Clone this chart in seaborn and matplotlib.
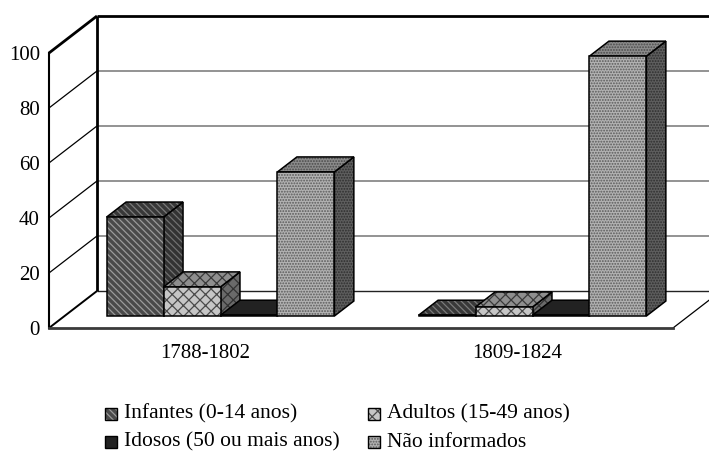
"""3D-style grouped bar chart of age groups by period (Excel look)."""

import matplotlib
matplotlib.use("Agg")
import matplotlib.pyplot as plt
import pandas as pd
import seaborn as sns
from matplotlib import transforms
from matplotlib.patches import Polygon, Rectangle

# Data
periods = ["1788-1802", "1809-1824"]
groups = [
    "Infantes (0-14 anos)",
    "Adultos (15-49 anos)",
    "Idosos (50 ou mais anos)",
    "Não informados",
]
infantes = [36.0, 0.3]
adultos = [10.6, 3.3]
idosos = [0.3, 0.3]
nao_informados = [52.4, 94.5]
y_ticks = [0, 20, 40, 60, 80, 100]

# Face styles: front / top / side fill, hatch colour per face, hatch pattern
styles = {
    groups[0]: dict(front="#4a4a4a", top="#383838", side="#333333",
                    hc=("#9a9a9a", "#7a7a7a", "#707070"), hatch="\\\\\\\\\\"),
    groups[1]: dict(front="#c6c6c6", top="#8e8e8e", side="#6a6a6a",
                    hc=("#4a4a4a", "#3a3a3a", "#333333"), hatch="xxx"),
    groups[2]: dict(front="#222222", top="#222222", side="#222222",
                    hc=("#222222", "#222222", "#222222"), hatch=None),
    groups[3]: dict(front="#b2b2b2", top="#8c8c8c", side="#5e5e5e",
                    hc=("#5a5a5a", "#4a4a4a", "#2e2e2e"), hatch="......"),
}

# Projection: depth offset of the floor, bar placement in depth
DX, DY = 0.1538, 13.45
F0, DEPTH = 0.324, 0.405

W, H = 709, 461

sns.set_style("white")
plt.rcParams["font.family"] = ["Liberation Serif", "DejaVu Serif"]
plt.rcParams["hatch.linewidth"] = 0.9

df = pd.DataFrame({
    "period": periods * 4,
    "group": [g for g in groups for _ in periods],
    "value": infantes + adultos + idosos + nao_informados,
})

fig = plt.figure(figsize=(W / 100, H / 100), dpi=100)
ax = fig.add_axes([0, 0, 1, 1])

sns.barplot(
    data=df, x="period", y="value", hue="group",
    order=periods, hue_order=groups,
    palette=[styles[g]["front"] for g in groups],
    width=0.73, saturation=1, errorbar=None, legend=False, ax=ax,
)

ax.set_xlim(-0.657, 1.6154)
ax.set_ylim(-48.36, 119.27)
ax.set_xlabel("")
ax.set_ylabel("")
ax.set_facecolor("white")


def line(xs, ys, **kw):
    ax.plot(xs, ys, solid_capstyle="butt", clip_on=False, **kw)


# Walls and floor
x_left, x_right = -0.5, len(periods) - 0.5
for v in y_ticks:
    if v == 100:
        line([x_left + DX, x_right + DX], [v + DY] * 2, color="black", lw=2, zorder=2)
    elif v == 0:
        line([x_left + DX, x_right + DX], [v + DY] * 2, color="#222222", lw=1, zorder=2)
    else:
        line([x_left + DX, x_right + DX], [v + DY] * 2, color="#808080", lw=1.2, zorder=1)
    lw = 2 if v == 100 else (1.4 if v == 0 else 0.9)
    line([x_left, x_left + DX], [v, v + DY], color="black", lw=lw, zorder=2)
line([x_left + DX] * 2, [DY, 100 + DY], color="black", lw=2, zorder=2)
line([x_right, x_right + DX], [0, DY], color="black", lw=0.9, zorder=2)


def face(points, fill, hc, hatch, z):
    ax.add_patch(Polygon(points, closed=True, facecolor=fill, edgecolor=hc,
                         hatch=hatch, lw=0, zorder=z))
    ax.add_patch(Polygon(points, closed=True, fill=False, edgecolor="black",
                         lw=1.1, joinstyle="miter", zorder=z + 0.001))


shift = transforms.Affine2D().translate(F0 * DX, F0 * DY) + ax.transData
bx, by = DEPTH * DX, DEPTH * DY

for i, g in enumerate(groups):
    st = styles[g]
    z = 5 + i
    for rect in ax.containers[i]:
        x, w, h = rect.get_x(), rect.get_width(), rect.get_height()
        xf, yf = x + F0 * DX, F0 * DY
        side = [(xf + w, yf), (xf + w + bx, yf + by),
                (xf + w + bx, yf + h + by), (xf + w, yf + h)]
        top = [(xf, yf + h), (xf + w, yf + h),
               (xf + w + bx, yf + h + by), (xf + bx, yf + h + by)]
        face(side, st["side"], st["hc"][2], st["hatch"], z)
        face(top, st["top"], st["hc"][1], st["hatch"], z + 0.01)
        rect.set_transform(shift)
        rect.set_hatch(st["hatch"])
        rect.set_edgecolor(st["hc"][0])
        rect.set_linewidth(0)
        rect.set_zorder(z + 0.02)
        ax.add_patch(Rectangle((x, 0), w, h, transform=shift, fill=False,
                               edgecolor="black", lw=1.1, zorder=z + 0.03))

# Axes: front y axis and floor edge
for s in ["top", "right"]:
    ax.spines[s].set_visible(False)
ax.spines["left"].set_position(("data", x_left))
ax.spines["left"].set_bounds(0, 100)
ax.spines["left"].set_linewidth(1.5)
ax.spines["left"].set_color("black")
ax.spines["left"].set_zorder(3)
ax.spines["bottom"].set_position(("data", 0))
ax.spines["bottom"].set_bounds(x_left, x_right)
ax.spines["bottom"].set_linewidth(2)
ax.spines["bottom"].set_color("#3a3a3a")
ax.spines["bottom"].set_zorder(3)

ax.set_yticks(y_ticks)
ax.set_yticklabels([str(v) for v in y_ticks])
ax.set_xticks([x_left, 0.5, x_right], ["", "", ""])
ax.set_xticks(range(len(periods)), periods, minor=True)
ax.tick_params(axis="y", direction="out", length=4.5, width=1, pad=2,
               labelsize=15, colors="black")
ax.tick_params(axis="x", which="major", direction="out", length=3.6, width=1,
               colors="black")
ax.tick_params(axis="x", which="minor", length=0, pad=11.5, labelsize=15,
               colors="black")

# Legend (two columns, pixel positions of the reference)
entries = [(105, 414, groups[0]), (368, 414, groups[1]),
           (105, 442, groups[2]), (368, 442, groups[3])]
for px, py, g in entries:
    st = styles[g]
    box = (px / W, 1 - (py + 6) / H)
    size = (12 / W, 12 / H)
    fig.add_artist(Rectangle(box, *size, transform=fig.transFigure,
                             facecolor=st["front"], edgecolor=st["hc"][0],
                             hatch=st["hatch"], lw=0))
    fig.add_artist(Rectangle(box, *size, transform=fig.transFigure,
                             fill=False, edgecolor="black", lw=1))
    fig.text((px + 19) / W, 1 - py / H, g, fontsize=15.5, va="center",
             ha="left", color="black")

fig.savefig("out.png", dpi=100)
plt.close(fig)
